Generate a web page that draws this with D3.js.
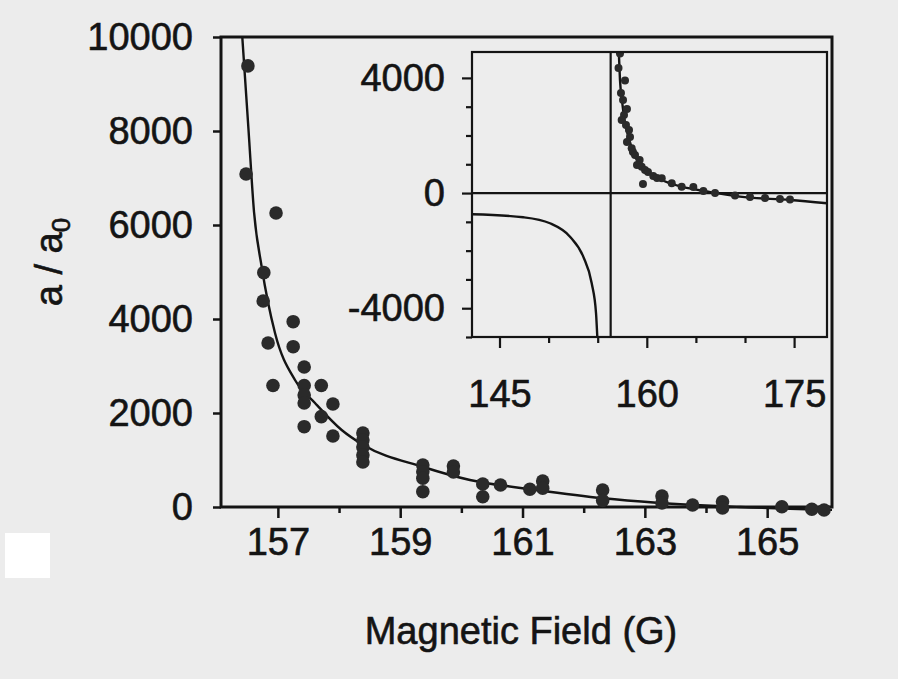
<html>
<head>
<meta charset="utf-8">
<title>a / a0 vs Magnetic Field</title>
<style>
  html, body { margin: 0; padding: 0; background: #ececec; }
  svg { display: block; }
  text { font-family: "Liberation Sans", Arial, sans-serif; fill: #141414; stroke: #141414; stroke-width: 0.6px; }
</style>
<script src="https://d3js.org/d3.v7.min.js"></script>
</head>
<body>
<script>
  // main panel: measured points
  var mainField = [156.51, 156.48, 156.97, 156.77, 156.76, 157.25, 156.84, 157.25, 157.43, 156.92,
                   157.43, 157.71, 157.43, 157.43, 157.90, 157.71, 157.43, 157.90,
                   158.39, 158.39, 158.39, 158.39, 158.39, 159.37, 159.37, 159.37, 159.37,
                   159.87, 159.87, 160.35, 160.35, 160.64, 161.12, 161.33, 161.33,
                   162.31, 162.31, 163.28, 163.28, 163.78, 164.27, 164.27, 165.24, 165.73, 165.93];
  var mainA = [9385, 7086, 6256, 4986, 4384, 3943, 3490, 3411, 2979, 2586,
               2586, 2586, 2383, 2213, 2192, 1922, 1709, 1511,
               1575, 1426, 1277, 1107, 958, 894, 751, 611, 326,
               872, 745, 489, 219, 468, 377, 553, 398,
               362, 138, 234, 85, 43, 113, -21, 6, -49, -64];

  // main panel: fitted curve
  var fitField = [156.418, 156.52, 156.61, 156.735, 156.953, 157.28, 157.607, 158.043, 158.397,
                  159.378, 160.141, 161.232, 162.321, 163.194, 164.556, 166.06];
  var fitA = [10000, 8021, 6277, 5113, 3702, 2702, 2213, 1638, 1319, 851, 574, 362, 185, 91, 0, -64];

  var mainYTicks = [0, 2000, 4000, 6000, 8000, 10000];
  var mainXTicks = [157, 158, 159, 160, 161, 162, 163, 164, 165];

  // inset: measured points
  var insetField = [157.27, 157.12, 157.78, 157.37, 157.58, 157.98, 157.68, 157.44, 157.88, 158.19,
                    158.29, 157.98, 158.46, 158.59, 158.80, 159.27, 159.00, 159.48, 159.82, 160.12,
                    159.61, 160.66, 161.04, 161.52, 162.54, 163.55, 164.74, 165.76, 166.95, 168.98,
                    170.51, 172.04, 173.56, 174.58];
  var insetA = [4850, 4346, 3912, 3477, 3234, 2922, 2713, 2540, 2366, 2192,
                1949, 1775, 1556, 1428, 1324, 1150, 976, 917, 802, 733,
                316, 594, 525, 514, 340, 222, 212, 73, 3, -83,
                -135, -170, -205, -222];

  // inset: fitted curve, both branches
  var insetPosField = [157.15, 157.27, 157.47, 157.73, 158.12, 158.80, 159.82, 161.52, 163.55, 166.26, 169.48, 174.58, 178.35];
  var insetPosA = [4900, 3929, 3234, 2540, 1959, 1265, 802, 455, 222, 49, -125, -240, -354];
  var insetNegField = [142.2, 147.42, 150.14, 152.18, 153.53, 154.39, 154.83, 154.96];
  var insetNegA = [-736, -841, -1049, -1515, -2209, -3133, -4176, -5000];
  var insetPole = 156.32;

  var insetYTicks = [-5000, -4000, -3000, -2000, -1000, 0, 1000, 2000, 3000, 4000];
  var insetYLabels = [-4000, 0, 4000];
  var insetXTicks = [145, 150, 155, 160, 165, 170, 175];
  var insetXLabels = [145, 160, 175];

  var W = 898, H = 679;
  var svg = d3.select("body").append("svg").attr("width", W).attr("height", H);

  // scanner artefact: white patch on the left
  svg.append("rect").attr("x", 5).attr("y", 533).attr("width", 45).attr("height", 45).attr("fill", "#ffffff");

  var L = 221, R = 832, T = 37, B = 507;
  var x = d3.scaleLinear().domain([156.07, 166.06]).range([L, R]);
  var y = d3.scaleLinear().domain([0, 10000]).range([B, T]);

  var ink = "#141414";

  // y axis
  var gy = svg.append("g").attr("transform", "translate(" + L + ",0)")
    .call(d3.axisLeft(y).tickValues(mainYTicks).tickSize(8).tickPadding(20).tickFormat(d3.format("d")));
  // x axis
  var gx = svg.append("g").attr("transform", "translate(0," + B + ")")
    .call(d3.axisBottom(x).tickValues(mainXTicks).tickSize(11).tickPadding(10)
      .tickFormat(function (d) { return d % 2 ? d : ""; }));
  gx.selectAll(".tick line").attr("y2", function (d) { return d % 2 ? 11 : 6; });

  [gx, gy].forEach(function (g) {
    g.select(".domain").remove();
    g.selectAll(".tick line").attr("stroke", ink).attr("stroke-width", 2.5);
    g.selectAll(".tick text").attr("font-size", 38).attr("fill", ink)
      .style("font-family", '"Liberation Sans", Arial, sans-serif');
  });

  // frame
  svg.append("rect").attr("x", L).attr("y", T).attr("width", R - L).attr("height", B - T)
    .attr("fill", "none").attr("stroke", ink).attr("stroke-width", 3);

  svg.append("clipPath").attr("id", "mainclip").append("rect")
    .attr("x", L).attr("y", T).attr("width", R - L).attr("height", B - T + 4);

  var line = d3.line().x(function (d) { return x(d[0]); }).y(function (d) { return y(d[1]); })
    .curve(d3.curveMonotoneX);

  svg.append("path").attr("clip-path", "url(#mainclip)")
    .attr("d", line(d3.zip(fitField, fitA)))
    .attr("fill", "none").attr("stroke", ink).attr("stroke-width", 2.4);

  svg.append("g").selectAll("circle").data(d3.zip(mainField, mainA)).enter().append("circle")
    .attr("cx", function (d) { return x(d[0]); })
    .attr("cy", function (d) { return y(d[1]); })
    .attr("r", 6.8).attr("fill", "#2a2a2a");

  // axis titles
  svg.append("text").attr("x", 521).attr("y", 644).attr("text-anchor", "middle")
    .attr("font-size", 38).text("Magnetic Field (G)");

  var yl = svg.append("text").attr("transform", "translate(62,262) rotate(-90)")
    .attr("text-anchor", "middle").attr("font-size", 38);
  yl.append("tspan").text("a / a");
  yl.append("tspan").attr("font-size", 26).attr("dy", 8).text("0");

  // ---------- inset ----------
  var iL = 472, iR = 827, iT = 52, iB = 337;
  var ix = d3.scaleLinear().domain([142.2, 178.35]).range([iL, iR]);
  var iy = d3.scaleLinear().domain([-5000, 4900]).range([iB, iT]);

  svg.append("rect").attr("x", iL).attr("y", iT).attr("width", iR - iL).attr("height", iB - iT)
    .attr("fill", "#ededed");

  var igy = svg.append("g").attr("transform", "translate(" + iL + ",0)")
    .call(d3.axisLeft(iy).tickValues(insetYTicks).tickSize(10).tickPadding(17)
      .tickFormat(function (d) { return insetYLabels.indexOf(d) >= 0 ? d : ""; }));
  igy.selectAll(".tick line").attr("x2", function (d) { return insetYLabels.indexOf(d) >= 0 ? -10 : -6; });

  var igx = svg.append("g").attr("transform", "translate(0," + iB + ")")
    .call(d3.axisBottom(ix).tickValues(insetXTicks).tickSize(11).tickPadding(32)
      .tickFormat(function (d) { return insetXLabels.indexOf(d) >= 0 ? d : ""; }));
  igx.selectAll(".tick line").attr("y2", function (d) { return insetXLabels.indexOf(d) >= 0 ? 11 : 6; });

  [igx, igy].forEach(function (g) {
    g.select(".domain").remove();
    g.selectAll(".tick line").attr("stroke", ink).attr("stroke-width", 2.2);
    g.selectAll(".tick text").attr("font-size", 38).attr("fill", ink)
      .style("font-family", '"Liberation Sans", Arial, sans-serif');
  });

  svg.append("clipPath").attr("id", "insetclip").append("rect")
    .attr("x", iL).attr("y", iT).attr("width", iR - iL).attr("height", iB - iT);

  var iline = d3.line().x(function (d) { return ix(d[0]); }).y(function (d) { return iy(d[1]); })
    .curve(d3.curveMonotoneX);

  var ig = svg.append("g").attr("clip-path", "url(#insetclip)");

  // zero line and pole
  ig.append("line").attr("x1", iL).attr("x2", iR).attr("y1", iy(0)).attr("y2", iy(0))
    .attr("stroke", ink).attr("stroke-width", 2.2);
  ig.append("line").attr("x1", ix(insetPole)).attr("x2", ix(insetPole)).attr("y1", iT).attr("y2", iB)
    .attr("stroke", ink).attr("stroke-width", 2.2);

  ig.append("path").attr("d", iline(d3.zip(insetNegField, insetNegA)))
    .attr("fill", "none").attr("stroke", ink).attr("stroke-width", 2.4);
  ig.append("path").attr("d", iline(d3.zip(insetPosField, insetPosA)))
    .attr("fill", "none").attr("stroke", ink).attr("stroke-width", 2.4);

  ig.selectAll("circle").data(d3.zip(insetField, insetA)).enter().append("circle")
    .attr("cx", function (d) { return ix(d[0]); })
    .attr("cy", function (d) { return iy(d[1]); })
    .attr("r", 4).attr("fill", "#2a2a2a");

  svg.append("rect").attr("x", iL).attr("y", iT).attr("width", iR - iL).attr("height", iB - iT)
    .attr("fill", "none").attr("stroke", ink).attr("stroke-width", 2.2);
</script>
</body>
</html>
